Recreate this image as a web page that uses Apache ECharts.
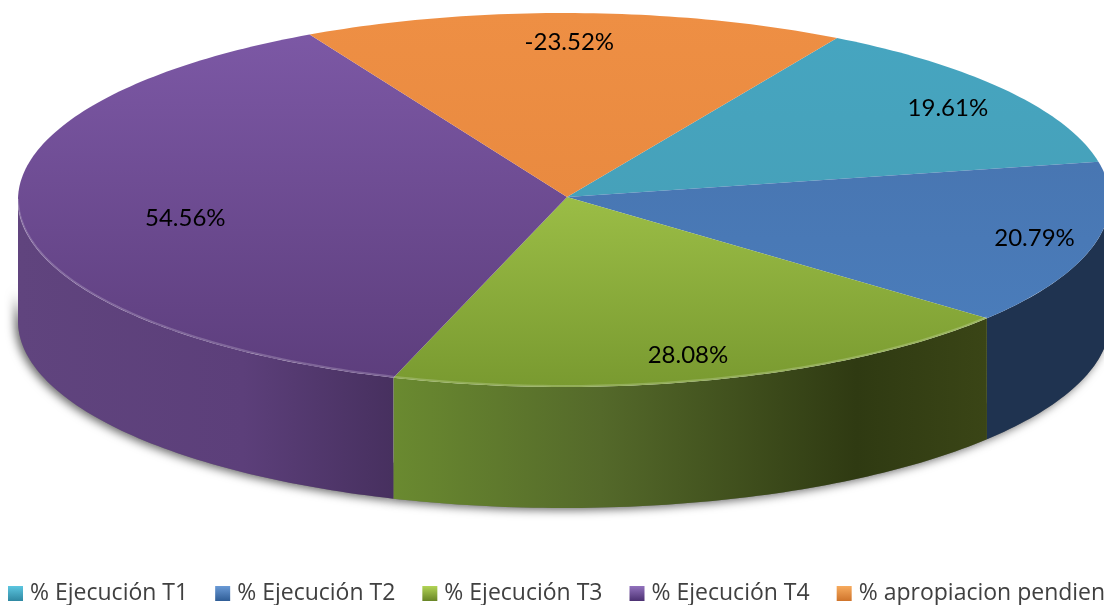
<!DOCTYPE html>
<html>
<head>
<meta charset="utf-8">
<style>html,body{margin:0;padding:0;background:#fff;overflow:hidden}#c{width:1104px;height:605px}</style>
<script src="https://cdn.jsdelivr.net/npm/echarts@6/dist/echarts.min.js"></script>
</head>
<body>
<div id="c"></div>
<script>
// data
const categories = ['% Ejecución T1','% Ejecución T2','% Ejecución T3','% Ejecución T4','% apropiacion pendiente'];
const values = [19.61, 20.79, 28.08, 54.56, -23.52];

// styling
const topColors = [['#46a5c0','#46a1ba'],['#4876b2','#4a7cba'],['#9bbd46','#799a30'],['#7c58a5','#5d3e7d'],['#ee8f44','#e98a40']];
const wallStops = [
  [[0,'#2f7f95'],[1,'#2f7f95']],
  [[0,'#1f3350'],[1,'#1f3350']],
  [[0,'#6a8a30'],[0.35,'#54692a'],[0.78,'#2f3a12'],[1,'#3a4516']],
  [[0,'#60447e'],[0.6,'#5c3f7a'],[1,'#47305f']],
  [[0,'#b06a30'],[1,'#b06a30']]
].map(stops=>stops.map(s=>({offset:s[0],color:s[1]})));
const legendColors = [['#5cc6e0','#2f88a2'],['#6a9ad6','#2f5d96'],['#b2d456','#688526'],['#9272bd','#4c3172'],['#f7ab5e','#cf742b']];
const labelFx = [0.868,0.887,0.81,0.696,0.5];
const labelFy = [0.835,0.87,0.864,1.17,0.845];

const cx = 564, cy = 200, rx = 546, ry = 187, apexX = 567, apexY = 197, depth = 121, startAngle = 30;
const total = values.reduce((s,v)=>s+Math.abs(v),0);

function rim(t, off){
  const a = t*Math.PI/180;
  return [cx+rx*Math.sin(a), cy-ry*Math.cos(a)+(off||0)];
}
function arc(a0,a1,off){
  const pts=[]; const n=Math.max(2,Math.ceil(Math.abs(a1-a0)));
  for(let i=0;i<=n;i++) pts.push(rim(a0+(a1-a0)*i/n,off));
  return pts;
}
function startOf(idx){
  let s=startAngle;
  for(let i=0;i<idx;i++) s+=Math.abs(values[i])/total*360;
  return s;
}

function makeRender(idx){
  return function(params, api){
    const v = api.value(0);
    const a0 = startOf(idx), a1 = a0+Math.abs(v)/total*360;
    const children=[];
    const f0=Math.max(a0,90), f1=Math.min(a1,270);
    if(f1>f0){
      // soft ground shadow under the lower part of the wall
      const low = arc(f0,f1,depth), mid = arc(f1,f0,depth-36);
      children.push({type:'polygon',z2:1,shape:{points:low.concat(mid)},
        style:{fill:'#777',shadowBlur:10,shadowColor:'rgba(0,0,0,0.6)',shadowOffsetX:-3,shadowOffsetY:2}});
      // wall: stops are listed from screen left to screen right
      const up = arc(f0,f1,0), dn = arc(f1,f0,depth);
      children.push({type:'polygon',z2:2,shape:{points:up.concat(dn)},
        style:{fill:new echarts.graphic.LinearGradient(0,0,1,0,wallStops[idx])}});
    }
    // top face
    children.push({type:'polygon',z2:3,shape:{points:[[apexX,apexY]].concat(arc(a0,a1,0))},
      style:{fill:new echarts.graphic.LinearGradient(0,0,0,1,[{offset:0,color:topColors[idx][0]},{offset:1,color:topColors[idx][1]}])}});
    if(f1>f0 && idx!==1){
      children.push({type:'polyline',z2:4,shape:{points:arc(f0,f1,-1)},
        style:{fill:null,stroke:'rgba(255,255,255,0.2)',lineWidth:2}});
    }
    const mid=(a0+a1)/2*Math.PI/180;
    children.push({type:'text',z2:5,style:{
      x:cx+rx*labelFx[idx]*Math.sin(mid),
      y:cy-ry*labelFy[idx]*Math.cos(mid),
      text:v.toFixed(2)+'%',fill:'#000',font:'24px Lato, sans-serif',align:'center',verticalAlign:'middle'}});
    return {type:'group',children};
  };
}

const chart = echarts.init(document.getElementById('c'),null,{renderer:'canvas'});
chart.setOption({
  animation:false,
  backgroundColor:'#fff',
  legend:{
    left:8,top:582,width:1400,padding:0,itemGap:27,itemWidth:15,itemHeight:15,
    icon:'rect',selectedMode:false,
    textStyle:{color:'#404040',fontSize:23,fontFamily:'"Open Sans", sans-serif',padding:[0,0,0,2]},
    data:categories
  },
  series:categories.map((name,i)=>({
    type:'custom',name,coordinateSystem:'none',silent:true,
    itemStyle:{color:new echarts.graphic.LinearGradient(0,0,0,1,[{offset:0,color:legendColors[i][0]},{offset:1,color:legendColors[i][1]}])},
    renderItem:makeRender(i),
    data:[[values[i]]]
  }))
});
</script>
</body>
</html>
